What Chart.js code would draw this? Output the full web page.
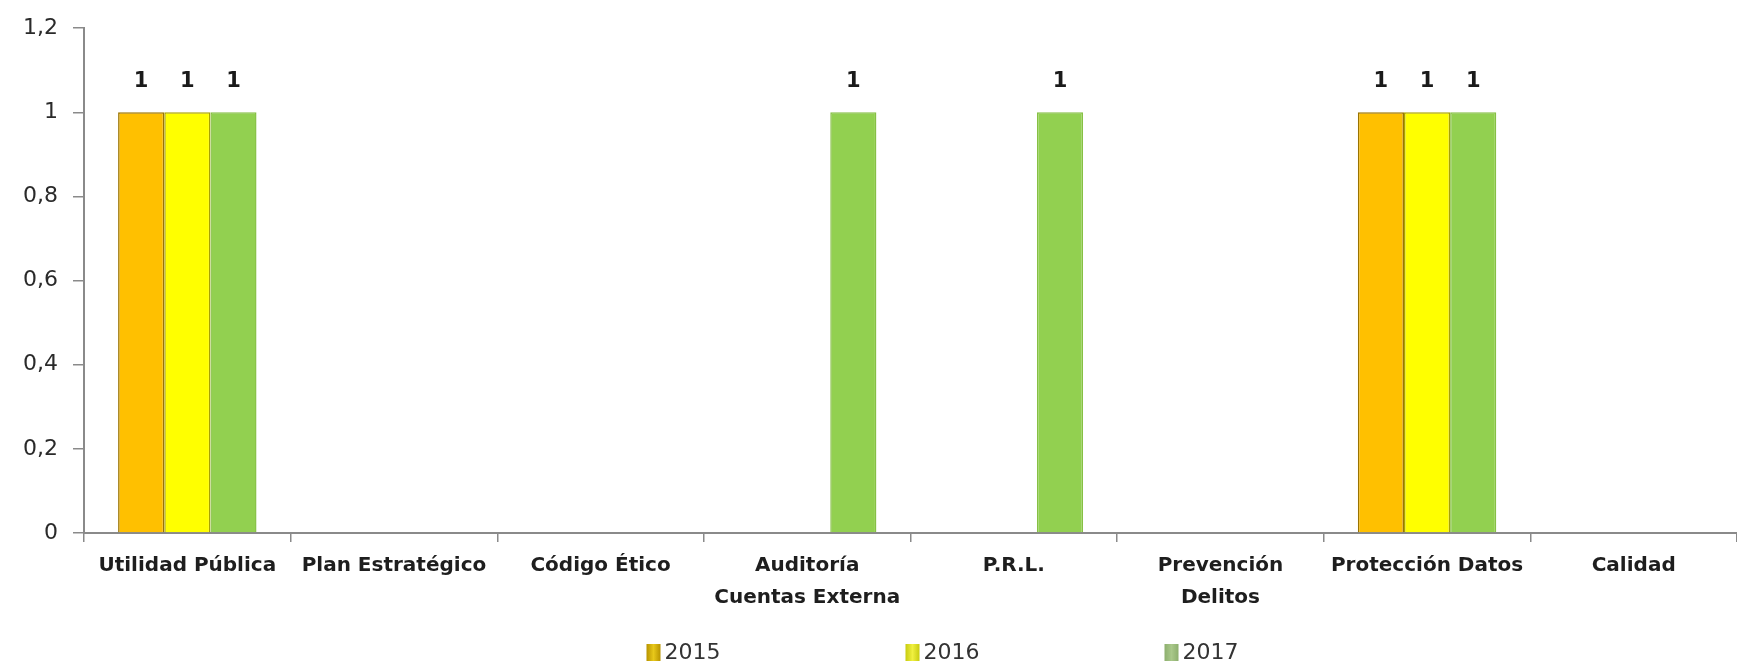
<!DOCTYPE html>
<html lang="es">
<head>
<meta charset="utf-8">
<title>Certificaciones por año</title>
<script src="https://cdn.jsdelivr.net/npm/chart.js@4.4.1/dist/chart.umd.min.js"></script>
<style>
  html, body { margin: 0; padding: 0; background: #fff; }
  #wrap { width: 1737px; height: 666px; position: relative; }
</style>
</head>
<body>
<div id="wrap"><canvas id="chart"></canvas></div>
<script>
const categories = [
  "Utilidad Pública",
  "Plan Estratégico",
  "Código Ético",
  ["Auditoría", "Cuentas Externa"],
  "P.R.L.",
  ["Prevención", "Delitos"],
  "Protección Datos",
  "Calidad"
];
const years = ["2015", "2016", "2017"];
const values2015 = [1, 0, 0, 0, 0, 0, 1, 0];
const values2016 = [1, 0, 0, 0, 0, 0, 1, 0];
const values2017 = [1, 0, 0, 1, 1, 0, 1, 0];
const yTicks = [0, 0.2, 0.4, 0.6, 0.8, 1, 1.2];

const barColors = ["#FFC000", "#FFFF00", "#92D050"];
const barBorders = ["#9A7300", "#A9A200", "#86C044"];
// legend swatches: [edge, centre] of the little shaded box
const legendColors = [["#B89400", "#E8C81A"], ["#C8CC10", "#F0F040"], ["#8DAF6E", "#A9C88A"]];
const axisColor = "#8a8a8a";

// "1" above every non-zero bar
const barValueLabels = {
  id: "barValueLabels",
  afterDatasetsDraw(chart) {
    const { ctx } = chart;
    ctx.save();
    ctx.font = "bold 21px 'DejaVu Sans'";
    ctx.fillStyle = "#1a1a1a";
    ctx.textAlign = "center";
    ctx.textBaseline = "middle";
    chart.data.datasets.forEach((ds, i) => {
      chart.getDatasetMeta(i).data.forEach((bar, j) => {
        const v = ds.data[j];
        if (!v) return;
        ctx.fillText(String(v), bar.x, bar.y - 31);
      });
    });
    ctx.restore();
  }
};

// legend with wide, even spacing like the original
const spacedLegend = {
  id: "spacedLegend",
  afterDraw(chart) {
    const { ctx, chartArea } = chart;
    const mid = (chartArea.left + chartArea.right) / 2 - 5;
    const step = 259;
    const y = 652;
    ctx.save();
    ctx.font = "22px 'DejaVu Sans'";
    ctx.textBaseline = "middle";
    ctx.textAlign = "left";
    chart.data.datasets.forEach((ds, i) => {
      const bx = mid + (i - 1) * step;
      const g = ctx.createLinearGradient(bx, 0, bx + 14, 0);
      g.addColorStop(0, legendColors[i][0]);
      g.addColorStop(0.5, legendColors[i][1]);
      g.addColorStop(1, legendColors[i][0]);
      ctx.fillStyle = g;
      ctx.fillRect(bx, y - 8, 14, 17);
      ctx.fillStyle = "#333";
      ctx.fillText(ds.label, bx + 18, y + 1);
    });
    ctx.restore();
  }
};

const seriesValues = [values2015, values2016, values2017];

const config = {
  type: "bar",
  data: {
    labels: categories,
    datasets: years.map((year, i) => ({
      label: year,
      data: seriesValues[i],
      backgroundColor: barColors[i],
      borderColor: barBorders[i],
      borderWidth: ctx => (ctx.raw > 0 ? 1.5 : 0),
      borderSkipped: "bottom",
      categoryPercentage: 0.67,
      barPercentage: 1.0,
    })),
  },
  options: {
    responsive: true,
    maintainAspectRatio: false,
    animation: false,
    layout: {
      padding: { top: 27, right: 0, bottom: 0, left: 0 },
    },
    plugins: {
      legend: { display: false },
      tooltip: { enabled: false },
    },
    scales: {
      x: {
        offset: true,
        grid: {
          display: true,
          offset: true,
          drawOnChartArea: false,
          drawTicks: true,
          tickLength: 9,
          color: axisColor,
          lineWidth: 1.5,
        },
        border: { display: true, color: axisColor, width: 2 },
        ticks: {
          color: "#1e1e1e",
          padding: 8,
          maxRotation: 0,
          autoSkip: false,
          font: { family: "'DejaVu Sans'", size: 20, weight: "bold", lineHeight: 1.6 },
        },
        afterFit(scale) {
          scale.height = 133;
        },
      },
      y: {
        min: 0,
        max: 1.2,
        afterBuildTicks(scale) {
          scale.ticks = yTicks.map(v => ({ value: v }));
        },
        grid: {
          display: true,
          drawOnChartArea: false,
          drawTicks: true,
          tickLength: 11,
          color: axisColor,
          lineWidth: 1.5,
        },
        border: { display: true, color: axisColor, width: 2 },
        ticks: {
          color: "#2a2a2a",
          padding: 15,
          font: { family: "'DejaVu Sans'", size: 22 },
          callback: v => String(Math.round(v * 10) / 10).replace(".", ","),
        },
        afterFit(scale) {
          scale.width = 84;
        },
      },
    },
  },
  plugins: [barValueLabels, spacedLegend],
};

new Chart(document.getElementById("chart"), config);
</script>
</body>
</html>
